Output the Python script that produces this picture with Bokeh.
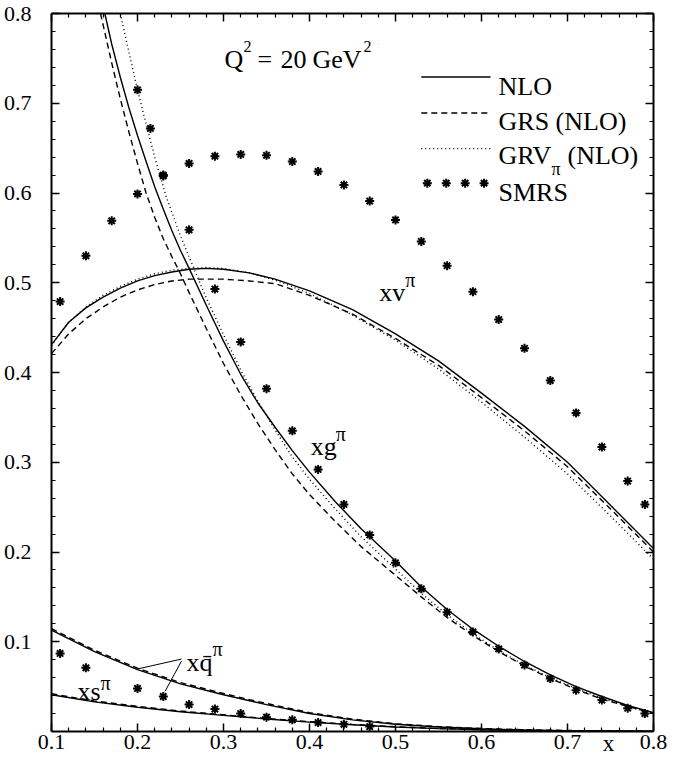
from bokeh.plotting import figure
from bokeh.models import LinearAxis, FixedTicker, Range1d, CustomJSTickFormatter
from bokeh.core.properties import value
from bokeh.embed import file_html
from bokeh.resources import INLINE

FONT = "Liberation Serif"

# ---------------- data ----------------
x_major = [0.1, 0.2, 0.3, 0.4, 0.5, 0.6, 0.7, 0.8]
y_major = [0.1, 0.2, 0.3, 0.4, 0.5, 0.6, 0.7, 0.8]
x_title = "x"

# x v^pi
xv_nlo_x = [0.10, 0.12, 0.14, 0.16, 0.18, 0.20, 0.22, 0.24, 0.26, 0.28, 0.30, 0.33, 0.36, 0.40, 0.45, 0.50, 0.55, 0.60, 0.65, 0.70, 0.75, 0.80]
xv_nlo_y = [0.431, 0.456, 0.472, 0.484, 0.494, 0.502, 0.508, 0.512, 0.515, 0.516, 0.515, 0.511, 0.504, 0.491, 0.470, 0.443, 0.413, 0.377, 0.340, 0.300, 0.252, 0.204]
xv_grs_y = [0.421, 0.443, 0.460, 0.473, 0.484, 0.492, 0.498, 0.502, 0.504, 0.504, 0.504, 0.502, 0.499, 0.486, 0.465, 0.438, 0.408, 0.372, 0.335, 0.295, 0.248, 0.200]
xv_grv_y = [0.430, 0.456, 0.473, 0.486, 0.496, 0.504, 0.510, 0.514, 0.516, 0.517, 0.516, 0.511, 0.503, 0.488, 0.464, 0.436, 0.404, 0.367, 0.328, 0.287, 0.240, 0.192]

# x g^pi
xg_nlo_x = [0.162, 0.17, 0.18, 0.19, 0.20, 0.21, 0.22, 0.23, 0.24, 0.25, 0.26, 0.28, 0.30, 0.32, 0.34, 0.36, 0.38, 0.40, 0.43, 0.46, 0.50, 0.53, 0.56, 0.59, 0.62, 0.65, 0.68, 0.71, 0.74, 0.77, 0.80]
xg_nlo_y = [0.800, 0.766, 0.729, 0.695, 0.664, 0.635, 0.607, 0.582, 0.558, 0.536, 0.516, 0.475, 0.435, 0.398, 0.366, 0.339, 0.313, 0.289, 0.256, 0.226, 0.190, 0.161, 0.136, 0.114, 0.095, 0.078, 0.063, 0.050, 0.039, 0.029, 0.021]
xg_grs_x = [0.157, 0.17, 0.18, 0.19, 0.20, 0.21, 0.22, 0.23, 0.24, 0.25, 0.26, 0.28, 0.30, 0.32, 0.34, 0.36, 0.38, 0.40, 0.43, 0.46, 0.50, 0.53, 0.56, 0.59, 0.62, 0.65, 0.68, 0.71, 0.74, 0.77, 0.80]
xg_grs_y = [0.800, 0.745, 0.705, 0.668, 0.633, 0.600, 0.573, 0.549, 0.529, 0.510, 0.489, 0.449, 0.410, 0.375, 0.343, 0.314, 0.287, 0.264, 0.234, 0.206, 0.174, 0.150, 0.127, 0.107, 0.089, 0.073, 0.059, 0.047, 0.036, 0.028, 0.020]
xg_grv_x = [0.180, 0.19, 0.20, 0.21, 0.22, 0.233, 0.25, 0.266, 0.28, 0.30, 0.32, 0.34, 0.36, 0.38, 0.40, 0.43, 0.46, 0.50, 0.53, 0.56, 0.59, 0.62, 0.65, 0.68, 0.71, 0.74, 0.77, 0.80]
xg_grv_y = [0.800, 0.757, 0.715, 0.677, 0.640, 0.597, 0.552, 0.515, 0.483, 0.442, 0.403, 0.368, 0.336, 0.306, 0.281, 0.248, 0.217, 0.181, 0.154, 0.130, 0.109, 0.090, 0.074, 0.060, 0.048, 0.037, 0.028, 0.020]

# x qbar^pi and x s^pi
xsea_x = [0.10, 0.15, 0.20, 0.25, 0.30, 0.35, 0.40, 0.45, 0.50, 0.55, 0.60, 0.65, 0.70, 0.75, 0.80]
xq_nlo_y = [0.113, 0.089, 0.069, 0.053, 0.041, 0.030, 0.020, 0.013, 0.008, 0.005, 0.003, 0.0017, 0.0010, 0.0005, 0.0002]
xq_grs_y = [0.1145, 0.0905, 0.0705, 0.0545, 0.0423, 0.0312, 0.0210, 0.0138, 0.0086, 0.0054, 0.0033, 0.0019, 0.0011, 0.0006, 0.0002]
xs_nlo_y = [0.041, 0.033, 0.027, 0.022, 0.018, 0.014, 0.0105, 0.0075, 0.0050, 0.0032, 0.0020, 0.0012, 0.0007, 0.0003, 0.0001]
xs_grs_y = [0.0420, 0.0340, 0.0280, 0.0228, 0.0186, 0.0145, 0.0110, 0.0079, 0.0053, 0.0034, 0.0021, 0.0013, 0.0007, 0.0003, 0.0001]

# SMRS points
smrs_v_x = [0.11, 0.14, 0.17, 0.20, 0.23, 0.26, 0.29, 0.32, 0.35, 0.38, 0.41, 0.44, 0.47, 0.50, 0.53, 0.56, 0.59, 0.62, 0.65, 0.68, 0.71, 0.74, 0.77, 0.79]
smrs_v_y = [0.479, 0.530, 0.569, 0.599, 0.619, 0.633, 0.641, 0.643, 0.642, 0.635, 0.624, 0.609, 0.591, 0.570, 0.546, 0.519, 0.490, 0.459, 0.427, 0.391, 0.355, 0.317, 0.279, 0.253]
smrs_g_x = [0.20, 0.215, 0.23, 0.26, 0.29, 0.32, 0.35, 0.38, 0.41, 0.44, 0.47, 0.50, 0.53, 0.56, 0.59, 0.62, 0.65, 0.68, 0.71, 0.74, 0.77, 0.79]
smrs_g_y = [0.715, 0.672, 0.620, 0.559, 0.493, 0.434, 0.382, 0.335, 0.292, 0.253, 0.219, 0.188, 0.159, 0.133, 0.111, 0.092, 0.074, 0.059, 0.046, 0.035, 0.026, 0.020]
smrs_q_x = [0.11, 0.14, 0.20, 0.23, 0.26, 0.29, 0.32, 0.35, 0.38, 0.41, 0.44, 0.47]
smrs_q_y = [0.087, 0.071, 0.048, 0.039, 0.030, 0.025, 0.020, 0.016, 0.013, 0.010, 0.008, 0.0055]

legend_labels = ["NLO", "GRS (NLO)", "GRV", "SMRS"]

# ---------------- styles / layout ----------------
LW = 1.4
DASH = "6 4"
DOT = "1 3"
STAR = dict(marker="asterisk", size=9, line_color="black", line_width=2)
X_TITLE_POS = 0.7477

p = figure(width=669, height=759, x_range=Range1d(0.1, 0.8), y_range=Range1d(0.0, 0.8),
           output_backend="svg", toolbar_location=None,
           x_axis_location=None, y_axis_location=None,
           min_border_left=51, min_border_right=16, min_border_top=13, min_border_bottom=28)
p.grid.grid_line_color = None
p.outline_line_color = None
p.background_fill_color = "white"
p.border_fill_color = "white"

minor = [round(0.02 * i, 2) for i in range(0, 41)]
x_minor = [m for m in minor if 0.1 <= m <= 0.8 and round(m * 10, 6) != round(m * 10)]
y_minor = [m for m in minor if round(m * 10, 6) != round(m * 10)]


def make_axis(ticks, minors, labels):
    ax = LinearAxis(ticker=FixedTicker(ticks=ticks, minor_ticks=minors),
                    major_tick_in=8, major_tick_out=0, minor_tick_in=4, minor_tick_out=0,
                    axis_line_width=2, axis_line_color="black",
                    major_tick_line_width=1.5, major_tick_line_color="black",
                    minor_tick_line_width=1.2, minor_tick_line_color="black",
                    major_label_text_font=FONT, major_label_text_color="black",
                    major_label_text_font_style="normal")
    if labels:
        ax.formatter = CustomJSTickFormatter(code="return tick.toFixed(1)")
        ax.major_label_text_font_size = "22px"
    else:
        ax.formatter = CustomJSTickFormatter(code="return ''")
        ax.major_label_text_font_size = "0px"
        ax.major_label_standoff = 0
    return ax


ax_b = make_axis(x_major, x_minor, True)
ax_b.major_label_standoff = 3
ax_l = make_axis(y_major, y_minor, True)
ax_l.major_label_standoff = 20
p.add_layout(ax_b, "below")
p.add_layout(ax_l, "left")
p.add_layout(make_axis(x_major, x_minor, False), "above")
p.add_layout(make_axis(y_major, y_minor, False), "right")

# axis title "x": a second, line-less bottom axis with one labelled tick near the right end
ax_t = LinearAxis(ticker=FixedTicker(ticks=[X_TITLE_POS], minor_ticks=[]),
                  formatter=CustomJSTickFormatter(code="return '%s'" % x_title),
                  axis_line_color=None, major_tick_line_color=None, minor_tick_line_color=None,
                  major_tick_in=0, major_tick_out=0, minor_tick_in=0, minor_tick_out=0,
                  major_label_standoff=-21, major_label_text_font=FONT,
                  major_label_text_font_size="23px", major_label_text_color="black")
p.add_layout(ax_t, "below")

# ---------------- curves ----------------
p.line(xv_nlo_x, xv_nlo_y, line_color="black", line_width=LW)
p.line(xv_nlo_x, xv_grs_y, line_color="black", line_width=LW, line_dash=DASH)
p.line(xv_nlo_x, xv_grv_y, line_color="black", line_width=LW, line_dash=DOT)

p.line(xg_nlo_x, xg_nlo_y, line_color="black", line_width=LW)
p.line(xg_grs_x, xg_grs_y, line_color="black", line_width=LW, line_dash=DASH)
p.line(xg_grv_x, xg_grv_y, line_color="black", line_width=LW, line_dash=DOT)

p.line(xsea_x, xq_nlo_y, line_color="black", line_width=LW)
p.line(xsea_x, xq_grs_y, line_color="black", line_width=LW, line_dash=DASH)
p.line(xsea_x, xs_nlo_y, line_color="black", line_width=LW)
p.line(xsea_x, xs_grs_y, line_color="black", line_width=LW, line_dash=DASH)

p.scatter(smrs_v_x, smrs_v_y, **STAR)
p.scatter(smrs_g_x, smrs_g_y, **STAR)
p.scatter(smrs_q_x, smrs_q_y, **STAR)

# pointer lines for the xqbar label
p.segment(x0=[0.2512, 0.2512], y0=[0.0807, 0.0785], x1=[0.2014, 0.2322], y1=[0.0700, 0.0450],
          line_color="black", line_width=1.0)

# ---------------- texts ----------------
def txt(x, y, s, size, dx=0, dy=0, align="left"):
    p.text(x=[x], y=[y], text=[s], text_font=value(FONT), text_font_size=value(size),
           text_color="black", text_align=align, text_baseline="alphabetic",
           x_offset=dx, y_offset=dy)

# Q^2 = 20 GeV^2
qx, qy = 0.3012, 0.7486
txt(qx, qy, "Q", "26px")
txt(qx, qy, "2", "16px", dx=19, dy=-13)
txt(qx, qy, "=", "26px", dx=33)
txt(qx, qy, "20", "26px", dx=56)
txt(qx, qy, "GeV", "26px", dx=88)
txt(qx, qy, "2", "16px", dx=139, dy=-13)

# curve labels
txt(0.481, 0.4895, "xv", "26px")
txt(0.481, 0.4895, "\u03c0", "20px", dx=26, dy=-12)
txt(0.4015, 0.317, "xg", "26px")
txt(0.4015, 0.317, "\u03c0", "20px", dx=25, dy=-13)
txt(0.1302, 0.0442, "xs", "26px")
txt(0.1302, 0.0442, "\u03c0", "20px", dx=23, dy=-9)
txt(0.257, 0.0768, "xq\u0304", "26px")
txt(0.257, 0.0768, "\u03c0", "20px", dx=26, dy=-14)

# legend
lx0, lx1, tx = 0.530, 0.6105, 0.6198
p.segment(x0=[lx0], y0=[0.7293], x1=[lx1], y1=[0.7293], line_color="black", line_width=LW)
p.segment(x0=[lx0], y0=[0.6892], x1=[lx1], y1=[0.6892], line_color="black", line_width=LW, line_dash=DASH)
p.segment(x0=[lx0], y0=[0.6494], x1=[lx1], y1=[0.6494], line_color="black", line_width=LW, line_dash=DOT)
p.scatter([0.537, 0.559, 0.581, 0.603], [0.611] * 4, **STAR)
txt(tx, 0.7187, legend_labels[0], "26px")
txt(tx, 0.6800, legend_labels[1], "26px")
txt(tx, 0.6420, legend_labels[2], "26px")
txt(tx, 0.6420, "\u03c0", "18px", dx=53, dy=14)
txt(tx, 0.6420, "(NLO)", "26px", dx=69)
txt(tx, 0.6007, legend_labels[3], "26px")

open("out.html", "w").write(file_html(p, INLINE))
